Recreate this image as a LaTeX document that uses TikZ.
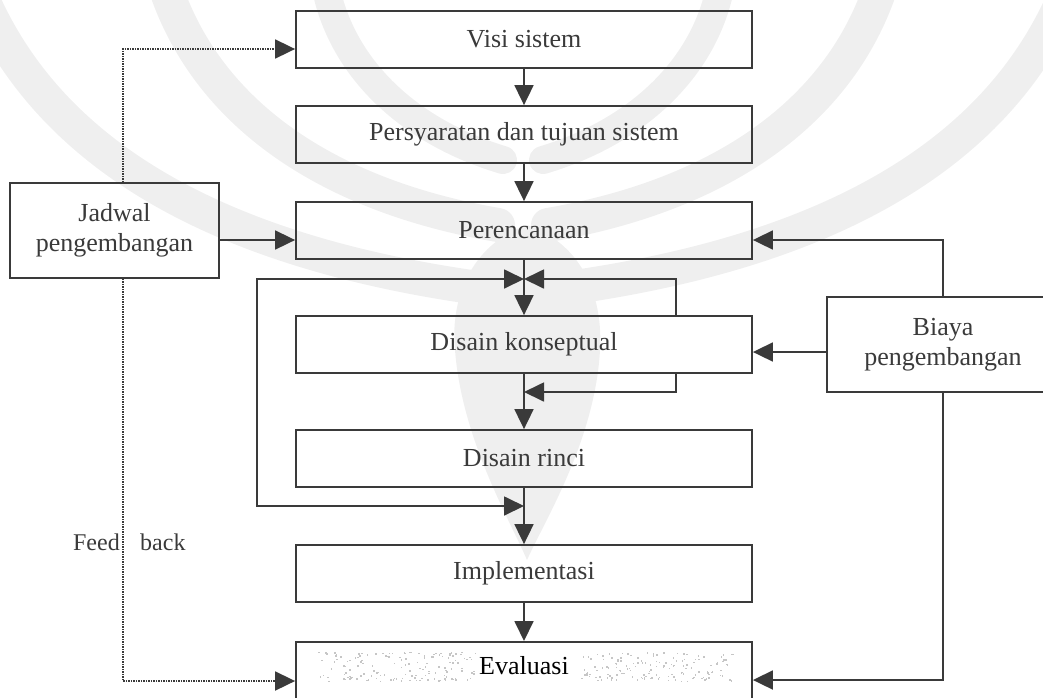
\documentclass[tikz,border=0pt]{standalone}
\usepackage{fontspec}
\setmainfont{Liberation Serif}
\usetikzlibrary{arrows.meta}
\definecolor{ink}{HTML}{3A3A3A}
\definecolor{wmgray}{HTML}{EFEFEF}
\begin{document}
\begin{tikzpicture}[x=1pt,y=-1pt,
  box/.style={draw=ink, line width=1.8pt, inner sep=0pt, text=ink,
              font=\fontsize{26}{30}\selectfont, align=center},
  mainbox/.style={box, minimum width=456pt, minimum height=57pt},
  sidebox/.style={box, minimum width=209pt, minimum height=95pt},
  link/.style={draw=ink, line width=1.8pt},
  tip/.tip={Triangle[length=20pt,width=19pt]},
  arr/.style={link, -tip},
  twoway/.style={link, tip-tip},
  fb/.style={draw=ink, line width=1.8pt, dash pattern=on 1.5pt off 1pt},
  fbarr/.style={fb, -tip},
  fbtext/.style={text=ink, inner sep=0pt, font=\fontsize{24}{28}\selectfont},
  band/.style={draw=wmgray, line width=34pt, line cap=round},
]
\clip (0,0) rectangle (1043,697);

% faint emblem in the background
\foreach \s in {1,-1}{
  \begin{scope}[xshift=523pt, xscale=\s]
    \draw[band] (-30,290) .. controls (-260,260) and (-460,180) .. (-540,0);
    \draw[band] (-25,225) .. controls (-200,195) and (-320,110) .. (-360,-20);
    \draw[band, line width=28pt] (-20,160) .. controls (-120,130) and (-190,60) .. (-200,-30);
  \end{scope}
}
\fill[wmgray] (527,225) .. controls (470,245) and (450,300) .. (455,350)
  .. controls (462,440) and (510,520) .. (527,560)
  .. controls (545,520) and (595,440) .. (600,350)
  .. controls (603,300) and (585,245) .. (527,225) -- cycle;

% junction points on the central axis
\coordinate (jtop) at (524,279);
\coordinate (jmid) at (524,392);
\coordinate (jbot) at (524,506);
\coordinate (loopx) at (676,0);

% process stages
\node[mainbox] (visi)   at (524,39.5)  {Visi sistem};
\node[mainbox] (pers)   at (524,134.5) {Persyaratan dan tujuan sistem};
\node[mainbox] (renc)   at (524,230.5) {Perencanaan};
\node[mainbox] (konsep) at (524,344.5) {Disain konseptual};
\node[mainbox] (rinci)  at (524,458.5) {Disain rinci};
\node[mainbox] (impl)   at (524,573.5) {Implementasi};
\node[mainbox, minimum height=100pt, anchor=north] (eval) at (524,641) {};

% side inputs
\node[sidebox] (jadwal) at (114.5,230.5) {Jadwal\\pengembangan};
\node[sidebox, minimum width=232pt] (biaya) at (943,344.5) {Biaya\\pengembangan};

% inner feedback loops around the design stages
\draw[twoway] (jtop) -- ++(-267,0) |- (jbot);
\draw[arr] (konsep.north -| loopx) |- (jtop);
\draw[arr] (konsep.south -| loopx) |- (jmid);

% main flow
\draw[arr] (visi.south)   -- (pers.north);
\draw[arr] (pers.south)   -- (renc.north);
\draw[arr] (renc.south)   -- (konsep.north);
\draw[arr] (konsep.south) -- (rinci.north);
\draw[arr] (rinci.south)  -- (impl.north);
\draw[arr] (impl.south)   -- (eval.north);

% schedule inputs
\coordinate (fbx) at (123,0);
\coordinate (evalin) at (524,681);
\draw[arr] ([yshift=-9.5pt]jadwal.east) -- ([yshift=-9.5pt]renc.west);
\draw[fbarr] (jadwal.north -| fbx) |- ([yshift=-9.5pt]visi.west);
\draw[fbarr] (jadwal.south -| fbx) |- (eval.west |- evalin);

% cost inputs
\draw[arr] (biaya.north) |- ([yshift=-9.5pt]renc.east);
\draw[arr] ([yshift=-7.5pt]biaya.west) -- ([yshift=-7.5pt]konsep.east);
\draw[arr] (biaya.south) |- ([yshift=1pt]eval.east |- evalin);

% grainy shading inside the evaluation box
\pgfmathsetseed{17}
\foreach \i in {1,...,150}{
  \pgfmathsetmacro\px{317+rnd*158}
  \pgfmathsetmacro\py{651+rnd*30}
  \fill[gray!45] (\px,\py) rectangle ++(1.5,1.5);
}
\foreach \i in {1,...,150}{
  \pgfmathsetmacro\px{580+rnd*153}
  \pgfmathsetmacro\py{651+rnd*30}
  \fill[gray!45] (\px,\py) rectangle ++(1.5,1.5);
}
\node[text=black, inner sep=0pt, font=\fontsize{26}{30}\selectfont] (evaltext) at (524,666) {Evaluasi};

% feedback label on the dotted line
\node[fbtext, anchor=base east] (feed) at (120,550) {Feed};
\node[fbtext, anchor=base west] (back) at (140,550) {back};
\end{tikzpicture}
\end{document}
